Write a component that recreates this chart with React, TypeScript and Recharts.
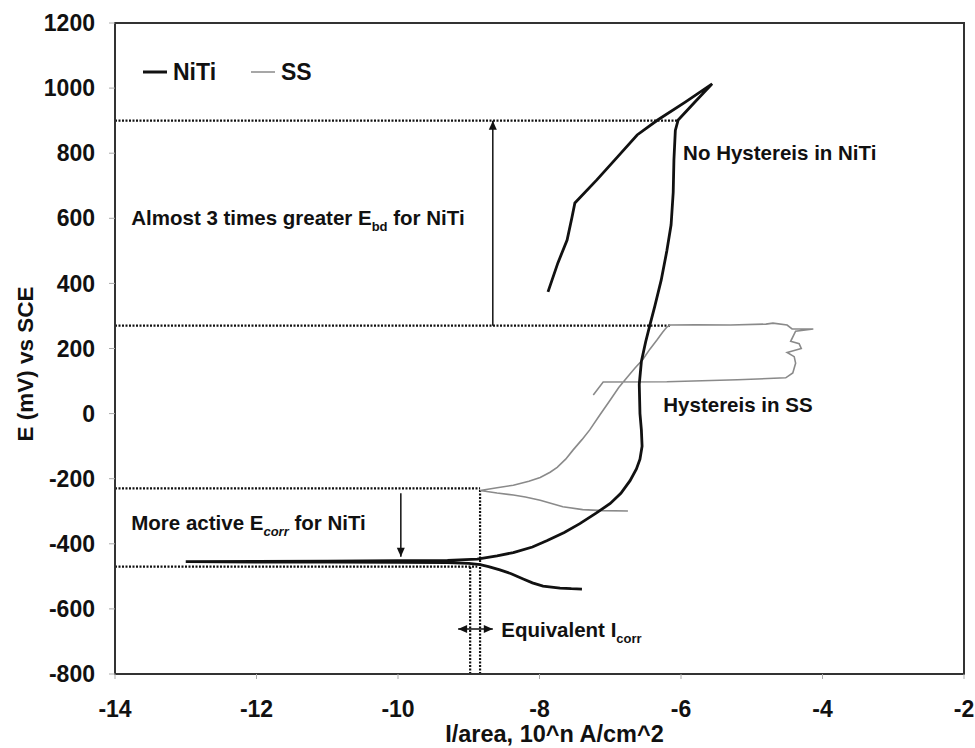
import React from 'react';
import {
  ComposedChart,
  Line,
  XAxis,
  YAxis,
  ReferenceLine,
  ReferenceDot,
  ReferenceArea,
  Legend,
} from 'recharts';

const FONT = '"Liberation Sans", Arial, Helvetica, sans-serif';

// Axis ticks
const xTicks = [-14, -12, -10, -8, -6, -4, -2];
const yTicks = [-800, -600, -400, -200, 0, 200, 400, 600, 800, 1000, 1200];

// NiTi: log current (x) and potential mV (y), in scan order
const niTiCurrent = [
  -7.4, -7.55, -7.71, -7.95, -8.1, -8.23, -8.4, -8.56, -8.72, -8.84, -9.0, -9.3,
  -10.0, -11.0, -12.0, -13.0, -12.0, -11.0, -10.0, -9.3, -8.88,
  -8.6, -8.37, -8.1, -7.89, -7.65, -7.43, -7.2, -7.0, -6.85, -6.72, -6.63, -6.58, -6.55,
  -6.56, -6.58, -6.59, -6.56, -6.5, -6.44, -6.37, -6.28, -6.2, -6.14, -6.11, -6.1, -6.08,
  -6.04, -5.8, -5.56,
  -5.94, -6.33, -6.62, -6.9, -7.19, -7.5, -7.54, -7.61, -7.74, -7.88,
];
const niTiPotential = [
  -539, -538, -536, -530, -520, -508, -492, -480, -470, -464, -460, -458,
  -457, -456, -456, -455, -454, -453, -452, -451, -447,
  -437, -427, -410, -390, -365, -338, -306, -276, -245, -206, -170, -140, -100,
  -50, 0, 90, 160, 220, 272, 330, 410, 500, 580, 680, 780, 870,
  902, 958, 1013,
  957, 902, 856, 788, 718, 647, 604, 533, 463, 374,
];

// SS: log current (x) and potential mV (y), in scan order
const ssCurrent = [
  -6.75, -7.1, -7.39, -7.67, -7.99, -8.2, -8.37, -8.6, -8.84,
  -8.6, -8.37, -8.15, -7.99, -7.85, -7.75, -7.63, -7.53, -7.4, -7.29, -7.15, -7.0, -6.88,
  -6.76, -6.65, -6.54, -6.44, -6.34, -6.26, -6.2, -6.15,
  -5.8, -5.3, -4.8, -4.7, -4.5, -4.43, -4.13, -4.38, -4.45, -4.33, -4.3, -4.5, -4.4, -4.38,
  -4.42, -4.52, -5.2, -6.2, -7.1, -7.24,
];
const ssPotential = [
  -299, -298, -295, -286, -266, -256, -250, -244, -236,
  -228, -220, -208, -196, -180, -165, -140, -113, -80, -50, -5, 42, 80,
  112, 140, 166, 198, 226, 250, 266, 272,
  273, 272, 275, 278, 272, 260, 260, 253, 222, 215, 200, 188, 175, 155,
  125, 110, 104, 98, 97, 57,
];

const niTiData = niTiCurrent.map((x, i) => ({ x, y: niTiPotential[i] }));
const ssData = ssCurrent.map((x, i) => ({ x, y: ssPotential[i] }));

// Dotted guide lines (data coordinates)
const dottedX1 = [-14, -14, -14, -14, -8.84, -8.98];
const dottedY1 = [900, 270, -230, -470, -800, -800];
const dottedX2 = [-6.05, -6.15, -8.84, -8.88, -8.84, -8.98];
const dottedY2 = [900, 270, -230, -470, -230, -470];

// Arrows (data coordinates)
const arrowX1 = [-8.66, -9.96, -9.15];
const arrowY1 = [270, -245, -662];
const arrowX2 = [-8.66, -9.96, -8.66];
const arrowY2 = [900, -440, -662];
const arrowBoth = [false, false, true];

// Annotation anchors (data coordinates)
const noteX = [-13.77, -5.97, -6.25, -13.77, -8.54];
const noteY = [600, 800, 26, -336, -665];
const noteMain = ['Almost 3 times greater E', 'No Hystereis in NiTi', 'Hystereis in SS', 'More active E', 'Equivalent I'];
const noteSub = ['bd', '', '', 'corr', 'corr'];
const noteTail = [' for NiTi', '', '', ' for NiTi', ''];

const seriesColors = { NiTi: '#111111', SS: '#8a8a8a' };

const headPoly = (x: number, y: number, ang: number) => {
  const L = 9;
  const W = 4;
  const bx = x - L * Math.cos(ang);
  const by = y - L * Math.sin(ang);
  const px = -Math.sin(ang) * W;
  const py = Math.cos(ang) * W;
  return `${x},${y} ${bx + px},${by + py} ${bx - px},${by - py}`;
};

const makeArrowShape = (both: boolean) => (p: any) => {
  const { x1, y1, x2, y2 } = p;
  const ang = Math.atan2(y2 - y1, x2 - x1);
  return (
    <g>
      <line x1={x1} y1={y1} x2={x2} y2={y2} stroke="#111" strokeWidth={1.5} />
      <polygon points={headPoly(x2, y2, ang)} fill="#111" />
      {both && <polygon points={headPoly(x1, y1, ang + Math.PI)} fill="#111" />}
    </g>
  );
};

const makeNoteShape = (i: number) => (p: any) => {
  const { cx, cy } = p;
  return (
    <text
      x={cx}
      y={cy + 7}
      fontFamily={FONT}
      fontWeight={700}
      fontSize={20.5}
      fill="#111"
    >
      {noteMain[i]}
      {noteSub[i] && (
        <tspan dy={6} fontSize={13} fontStyle={i === 3 ? 'italic' : 'normal'}>
          {noteSub[i]}
        </tspan>
      )}
      {noteTail[i] && <tspan dy={-6}>{noteTail[i]}</tspan>}
    </text>
  );
};

const renderLegend = (props: any) => {
  const { payload } = props;
  return (
    <div style={{ display: 'flex', alignItems: 'center', height: 28, fontFamily: FONT, fontWeight: 700, fontSize: 23, color: '#111' }}>
      {(payload || []).map((entry: any, idx: number) => (
        <div key={idx} style={{ display: 'flex', alignItems: 'center', marginRight: idx === 0 ? 35 : 0 }}>
          <svg width={26} height={10} style={{ display: 'block' }}>
            <line x1={0} y1={5} x2={24} y2={5} stroke={entry.color} strokeWidth={idx === 0 ? 3 : 1.5} />
          </svg>
          <span style={{ marginLeft: 4, lineHeight: '28px' }}>{entry.value}</span>
        </div>
      ))}
    </div>
  );
};

const XLabel = (p: any) => {
  const vb = p.viewBox || {};
  return (
    <text x={(vb.x ?? 115) + (vb.width ?? 849) / 2 + 15} y={742} textAnchor="middle" fontFamily={FONT} fontWeight={700} fontSize={23.5} fill="#111">
      I/area, 10^n A/cm^2
    </text>
  );
};

const YLabel = () => {
  return (
    <text x={0} y={0} transform={`translate(33, 364) rotate(-90)`} textAnchor="middle" fontFamily={FONT} fontWeight={700} fontSize={22.5} fill="#111">
      E (mV) vs SCE
    </text>
  );
};

export default function App() {
  const tickStyle = { fontSize: 23, fontWeight: 700, fill: '#111', fontFamily: FONT };
  return (
    <div style={{ position: 'fixed', left: 0, top: 0, background: '#fff' }}>
      <ComposedChart width={975} height={748} margin={{ top: 23, right: 11, bottom: 0, left: 35 }}>
        <XAxis
          type="number"
          dataKey="x"
          domain={[-14, -2]}
          ticks={xTicks}
          allowDataOverflow
          height={74}
          tickSize={5}
          tickMargin={22}
          tick={tickStyle}
          axisLine={{ stroke: '#333', strokeWidth: 2 }}
          tickLine={{ stroke: '#aaa' }}
          label={<XLabel />}
        />
        <YAxis
          type="number"
          dataKey="y"
          domain={[-800, 1200]}
          ticks={yTicks}
          allowDataOverflow
          width={80}
          tickSize={6}
          tickMargin={14}
          tick={tickStyle}
          axisLine={{ stroke: '#333', strokeWidth: 2 }}
          tickLine={{ stroke: '#aaa' }}
          label={<YLabel />}
        />
        <ReferenceArea x1={-14} x2={-2} y1={-800} y2={1200} fill="none" fillOpacity={0} stroke="#333" strokeWidth={2} />
        {dottedX1.map((x1, i) => (
          <ReferenceLine
            key={`d${i}`}
            segment={[{ x: x1, y: dottedY1[i] }, { x: dottedX2[i], y: dottedY2[i] }]}
            stroke="#111"
            strokeWidth={2.2}
            strokeDasharray="2 1.5"
          />
        ))}
        {arrowX1.map((x1, i) => (
          <ReferenceLine
            key={`a${i}`}
            segment={[{ x: x1, y: arrowY1[i] }, { x: arrowX2[i], y: arrowY2[i] }]}
            shape={makeArrowShape(arrowBoth[i])}
          />
        ))}
        <Line
          data={ssData}
          dataKey="y"
          name="SS"
          type="linear"
          stroke={seriesColors.SS}
          strokeWidth={1.6}
          dot={false}
          activeDot={false}
          isAnimationActive={false}
        />
        <Line
          data={niTiData}
          dataKey="y"
          name="NiTi"
          type="linear"
          stroke={seriesColors.NiTi}
          strokeWidth={2.8}
          dot={false}
          activeDot={false}
          isAnimationActive={false}
        />
        {noteX.map((x, i) => (
          <ReferenceDot key={`n${i}`} x={x} y={noteY[i]} r={0} shape={makeNoteShape(i)} />
        ))}
        <Legend
          layout="horizontal"
          verticalAlign="middle"
          align="center"
          content={renderLegend}
          itemSorter={(item: any) => (item.value === 'NiTi' ? 0 : 1)}
          wrapperStyle={{ left: 143, top: 58, width: 220 }}
        />
      </ComposedChart>
    </div>
  );
}
